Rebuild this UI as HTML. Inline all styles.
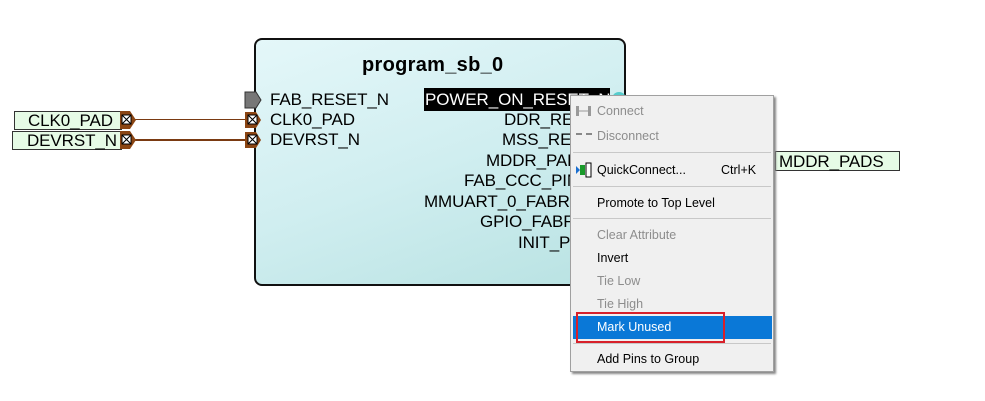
<!DOCTYPE html>
<html><head><meta charset="utf-8"><style>
body{margin:0;width:985px;height:401px;background:#fff;position:relative;overflow:hidden;font-family:"Liberation Sans",sans-serif}
.a{position:absolute;white-space:nowrap}
.box{left:254px;top:38px;width:368px;height:244px;border:2px solid #111;border-radius:8px;background:linear-gradient(160deg,#e4f7f9 0%,#d0eef0 50%,#b8e2e2 100%)}
.pl{font-size:17px;letter-spacing:-0.1px;color:#000;line-height:20px}
.port{background:#e6fbe6;border:1px solid #333;font-size:17px;letter-spacing:-0.1px;line-height:17px;box-sizing:border-box}
.menu{left:570px;top:95px;width:204px;height:277px;background:#f0f0f0;border:1px solid #a0a0a0;box-shadow:2px 2px 2px #888;box-sizing:border-box}
.mi{position:absolute;left:26px;font-family:"Liberation Sans","Noto Sans CJK SC",sans-serif;font-size:12.5px;color:#000;line-height:16px}
.dis{color:#8d8d8d}
.sep{position:absolute;left:2px;width:198px;height:1px;background:#c8c8c8}
</style></head><body>
<div class="a" style="left:134px;top:119px;width:112px;height:1px;background:#7a3a12"></div>
<div class="a" style="left:134px;top:139px;width:112px;height:2px;background:#7a3a12"></div>
<div class="a box"></div>
<div class="a" style="left:362px;top:54px;font-size:20px;font-weight:bold;letter-spacing:0.3px">program_sb_0</div>
<svg class="a" style="left:244px;top:90px" width="22" height="60">
<polygon points="1,2 12,2 17,10 12,18 1,18" fill="#777" stroke="#333"/>
<polygon points="1,22 12,22 17,30 12,38 1,38" fill="#8b4513"/>
<rect x="4" y="25" width="9" height="9" fill="#fff" stroke="#000"/><path d="M4 25 L13 34 M13 25 L4 34" stroke="#000"/>
<polygon points="1,42 12,42 17,50 12,58 1,58" fill="#8b4513"/>
<rect x="4" y="45" width="9" height="9" fill="#fff" stroke="#000"/><path d="M4 45 L13 54 M13 45 L4 54" stroke="#000"/>
</svg>
<div class="a pl" style="left:270px;top:90px">FAB_RESET_N</div>
<div class="a pl" style="left:270px;top:110px">CLK0_PAD</div>
<div class="a pl" style="left:270px;top:130px">DEVRST_N</div>
<div class="a" style="left:424px;top:88px;width:186px;height:23px;background:#000"></div>
<div class="a pl" style="left:425px;top:90px;color:#fff">POWER_ON_RESET_N</div>
<div class="a" style="left:612px;top:92px;width:14px;height:14px;border-radius:7px;background:#5cc;"></div>
<div class="a pl" style="left:504px;top:110px">DDR_RESET</div>
<div class="a pl" style="left:502px;top:130px">MSS_RESET</div>
<div class="a pl" style="left:486px;top:151px">MDDR_PADS</div>
<div class="a pl" style="left:464px;top:171px">FAB_CCC_PINS</div>
<div class="a pl" style="left:424px;top:192px">MMUART_0_FABRIC</div>
<div class="a pl" style="left:480px;top:212px">GPIO_FABRIC</div>
<div class="a pl" style="left:518px;top:233px">INIT_PINS</div>
<div class="a port" style="left:14px;top:111px;width:108px;height:19px;padding-left:13px">CLK0_PAD</div>
<div class="a port" style="left:12px;top:131px;width:110px;height:19px;padding-left:14px">DEVRST_N</div>
<svg class="a" style="left:120px;top:110px" width="18" height="42">
<polygon points="0,1 10,1 16,10 10,19 0,19" fill="#8b4513"/>
<rect x="2" y="5" width="9" height="9" fill="#fff" stroke="#000"/><path d="M2 5 L11 14 M11 5 L2 14" stroke="#000"/>
<polygon points="0,21 10,21 16,30 10,39 0,39" fill="#8b4513"/>
<rect x="2" y="25" width="9" height="9" fill="#fff" stroke="#000"/><path d="M2 25 L11 34 M11 25 L2 34" stroke="#000"/>
</svg>
<div class="a port" style="left:775px;top:151px;width:125px;height:20px;line-height:19px;padding-left:3px">MDDR_PADS</div>
<div class="a menu">
<svg style="position:absolute;left:4px;top:8px" width="18" height="14"><rect x="1" y="2" width="3" height="10" fill="#999"/><rect x="13" y="2" width="3" height="10" fill="#999"/><path d="M4 7 H13" stroke="#999"/></svg>
<div class="mi dis" style="top:7px">Connect</div>
<svg style="position:absolute;left:4px;top:33px" width="18" height="10"><path d="M1 5 H7 M11 5 H17" stroke="#888" stroke-width="2"/></svg>
<div class="mi dis" style="top:32px">Disconnect</div>
<div class="sep" style="top:56px"></div>
<svg style="position:absolute;left:4px;top:66px" width="20" height="16"><polygon points="1,4 5,8 1,12" fill="#1a6fd0"/><rect x="5" y="3" width="5" height="10" fill="#1a9a2a"/><rect x="11" y="1" width="5" height="14" fill="#fff" stroke="#000"/></svg>
<div class="mi" style="top:66px">QuickConnect...</div>
<div class="mi" style="top:66px;left:150px">Ctrl+K</div>
<div class="sep" style="top:90px"></div>
<div class="mi" style="top:99px">Promote to Top Level</div>
<div class="sep" style="top:122px"></div>
<div class="mi dis" style="top:131px">Clear Attribute</div>
<div class="mi" style="top:154px">Invert</div>
<div class="mi dis" style="top:177px">Tie Low</div>
<div class="mi dis" style="top:200px">Tie High</div>
<div style="position:absolute;left:2px;top:220px;width:199px;height:23px;background:#0a78d7"></div>
<div class="mi" style="top:223px;color:#fff">Mark Unused</div>
<div style="position:absolute;left:5px;top:216px;width:145px;height:27px;border:2px solid #d8202a"></div>
<div class="sep" style="top:247px"></div>
<div class="mi" style="top:255px">Add Pins to Group</div>
</div>
</body></html>
